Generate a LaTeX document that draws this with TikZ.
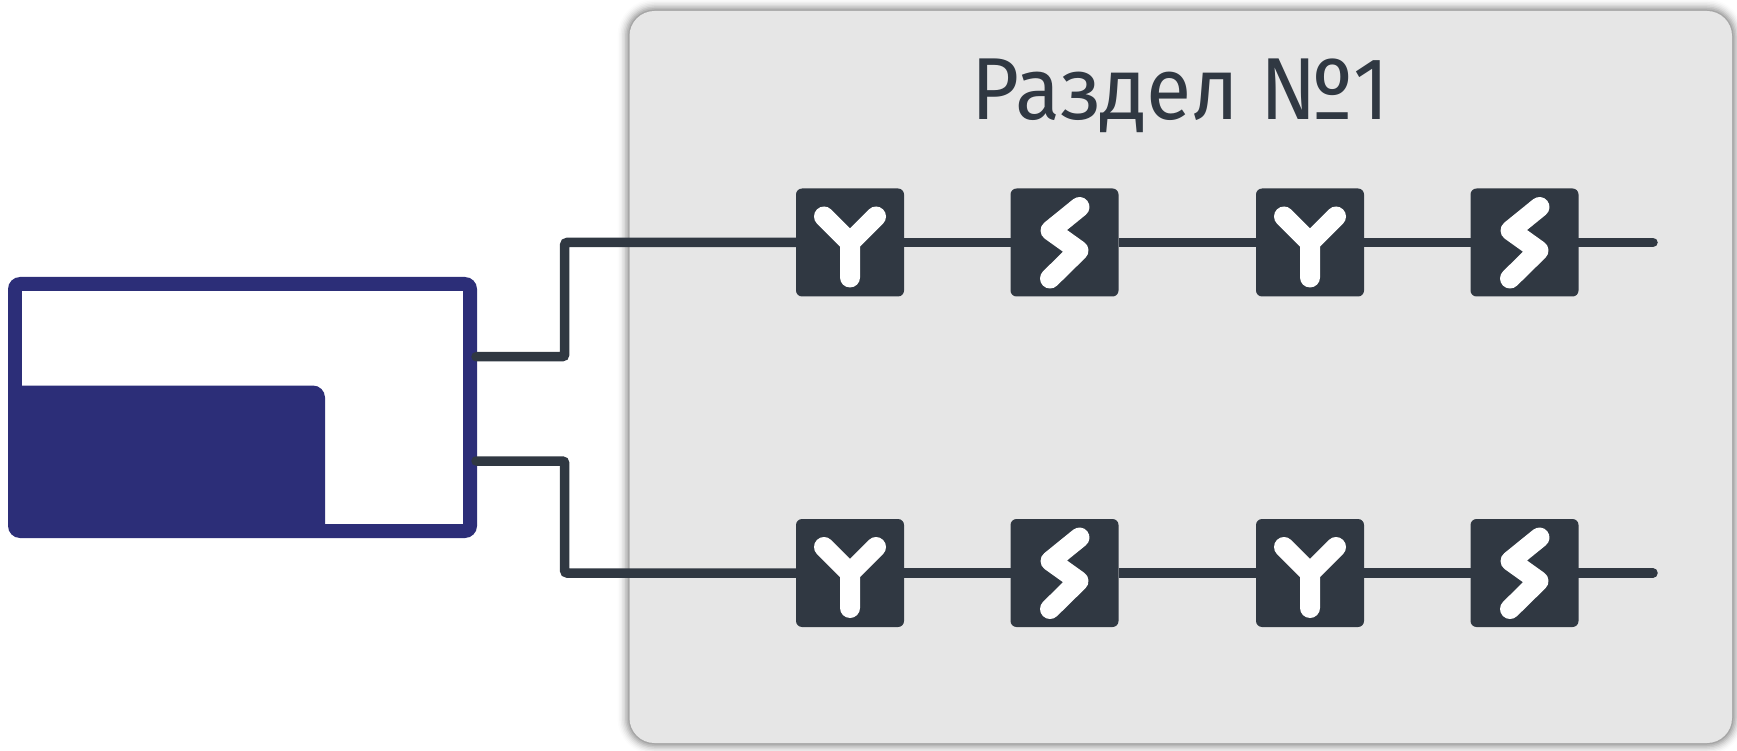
\documentclass[tikz,border=0pt]{standalone}
\usepackage{fontspec}
\setmainfont[FakeStretch=0.94]{Fira Sans}
\usetikzlibrary{calc}
\definecolor{slate}{HTML}{303842}
\definecolor{navy}{HTML}{2C2E78}
\definecolor{panelgrey}{HTML}{E6E6E6}
\tikzset{
  x=1pt,y=-1pt,
  wire/.style={draw=slate,line width=9.5pt,line cap=round,rounded corners=2.5pt},
  relay/.style={fill=slate,rounded corners=6pt,minimum width=108pt,minimum height=108pt,inner sep=0pt,outer sep=0pt},
  glyph/.style={draw=white,line width=20pt,line cap=round,line join=round},
  panel/.style={fill=panelgrey,rounded corners=25pt},
}
\newcommand{\ygly}[1]{\draw[glyph] ($(#1.center)+(-26,-26)$) -- (#1.center) -- ($(#1.center)+(26,-26)$) (#1.center) -- ($(#1.center)+(0,35)$);}
\newcommand{\sgly}[1]{\draw[glyph] ($(#1.center)+(15,-35.5)$) -- ($(#1.center)+(-14,-12)$) -- ($(#1.center)+(14,8)$) -- ($(#1.center)+(-14.5,36)$);}
\begin{document}
\begin{tikzpicture}
\useasboundingbox (0,0) rectangle (1737,751);
\fill[white] (0,0) rectangle (1737,751);
% panel shadow
\foreach \w/\o in {24/0.012,21/0.02,18/0.03,15/0.04,12/0.05,9/0.07,6/0.08,3/0.10}{
  \draw[black,opacity=\o,line width=\w pt,rounded corners=25pt] (629.5,11) rectangle (1732,743);
}
\node[panel,minimum width=1102.5pt,minimum height=732pt,inner sep=0pt,outer sep=0pt] (sec) at (1180.75,377) {};
\node[text=slate,font=\fontsize{88}{88}\selectfont,anchor=base,inner sep=0pt] (title) at (1180.5,120) {Раздел №1};
% source block
\node[fill=navy,rounded corners=12pt,minimum width=469pt,minimum height=261pt,inner sep=0pt,outer sep=0pt] (src) at (242.5,407.5) {};
\fill[white] (22,291.5) rectangle (463.3,524);
\path[fill=navy] (22,385.5) [rounded corners=12pt] -- (325,385.5) [sharp corners] -- (325,530) -- (22,530) -- cycle;
% relays
\foreach \n/\cx in {a/850,b/1064.5,c/1310,d/1524.5}{
  \node[relay] (\n1) at (\cx,242.5) {};
  \node[relay] (\n2) at (\cx,573) {};
}
\ygly{a1}\sgly{b1}\ygly{c1}\sgly{d1}
\ygly{a2}\sgly{b2}\ygly{c2}\sgly{d2}
% connectors
\coordinate (o1) at (476,356.7);
\coordinate (o2) at (476,461);
\coordinate (k1) at (564.7,242.5);
\coordinate (k2) at (564.7,573);
\coordinate (e1) at (1653,242.5);
\coordinate (e2) at (1653,573);
\foreach \r/\o/\k/\e in {1/o1/k1/e1,2/o2/k2/e2}{
  \draw[wire] (\o) -| (\k) -- (a\r.west);
  \draw[wire,line cap=butt] (a\r.east) -- (b\r.west);
  \draw[wire,line cap=butt] (b\r.east) -- (c\r.west);
  \draw[wire,line cap=butt] (c\r.east) -- (d\r.west);
  \draw[wire] (d\r.east) -- (\e);
}
\end{tikzpicture}
\end{document}
